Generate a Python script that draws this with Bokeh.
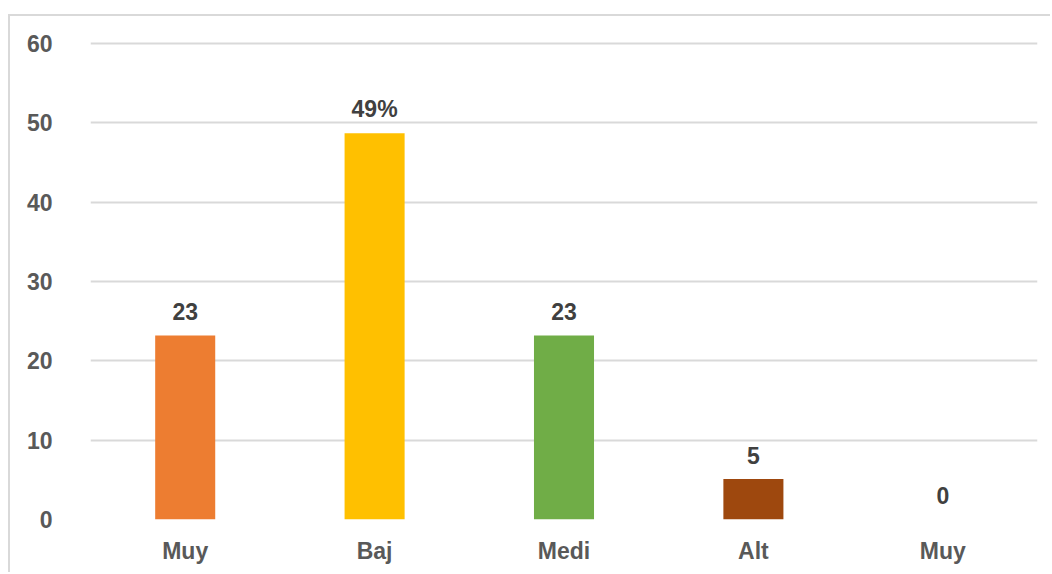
from bokeh.plotting import figure
from bokeh.models import Range1d, FixedTicker, ColumnDataSource
from bokeh.embed import file_html
from bokeh.resources import INLINE
from bokeh.core.properties import value

categories = ["Muy", "Baj", "Medi", "Alt", "Muy"]
values = [23.2, 48.7, 23.2, 5.1, 0.0]
labels = ["23", "49%", "23", "5", "0"]
colors = ["#ED7D31", "#FFC000", "#70AD47", "#9E480E", "#5B9BD5"]
y_ticks = [0, 10, 20, 30, 40, 50, 60]

xs = list(range(1, len(categories) + 1))
src = ColumnDataSource(dict(x=xs, top=values, lab=labels, color=colors))

p = figure(width=1042, height=558, output_backend="svg", toolbar_location=None,
           x_range=Range1d(0.5, len(categories) + 0.5), y_range=Range1d(0, 60.25),
           min_border_left=80, min_border_right=15, min_border_top=25, min_border_bottom=55,
           styles={"margin-left": "8px", "margin-top": "14px",
                   "border-left": "2px solid #d9d9d9", "border-top": "2px solid #d9d9d9"})
p.outline_line_color = None
p.background_fill_color = "white"
p.border_fill_color = "white"

p.vbar(x="x", top="top", bottom=0, width=0.317, fill_color="color", line_color=None, source=src)
p.text(x="x", y="top", text="lab", source=src, text_align="center", text_baseline="middle",
       y_offset=-24, text_font=value("Liberation Sans"), text_font_style="bold",
       text_font_size="23px", text_color="#404040")

p.xgrid.visible = False
p.ygrid.grid_line_color = "#d9d9d9"
p.ygrid.grid_line_width = 2
p.yaxis.ticker = FixedTicker(ticks=y_ticks)
p.xaxis.ticker = FixedTicker(ticks=xs)
p.xaxis.major_label_overrides = {x: c for x, c in zip(xs, categories)}

for ax in (p.xaxis[0], p.yaxis[0]):
    ax.axis_line_color = None
    ax.major_tick_line_color = None
    ax.minor_tick_line_color = None
    ax.major_tick_out = 0
    ax.major_tick_in = 0
    ax.major_label_text_font = "Liberation Sans"
    ax.major_label_text_font_style = "bold"
    ax.major_label_text_font_size = "23px"
    ax.major_label_text_color = "#595959"
p.yaxis.major_label_standoff = 38
p.xaxis.major_label_standoff = 18

open("out.html", "w").write(file_html(p, INLINE))
